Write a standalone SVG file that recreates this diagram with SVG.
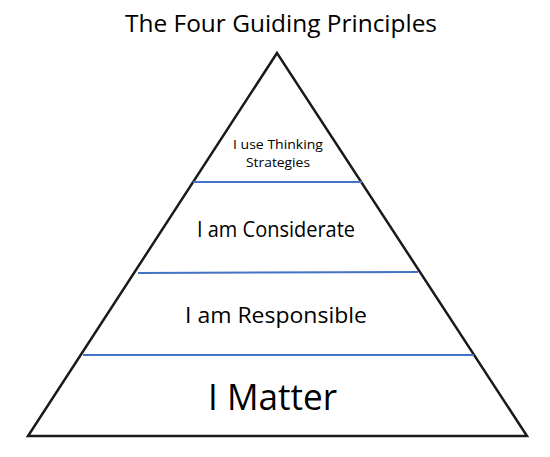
<svg xmlns="http://www.w3.org/2000/svg" width="550" height="457" viewBox="0 0 550 457">
<style>
text{font-family:"Open Sans","Liberation Sans",sans-serif;fill:#000;text-anchor:middle}
.tri{fill:#fff;stroke:#1a1a1a;stroke-width:2.5;stroke-linejoin:miter}
.div{stroke:#4472c4;stroke-width:2;fill:none}
</style>
<rect width="550" height="457" fill="#fff"/>
<text x="281" y="32" font-size="23" textLength="312" lengthAdjust="spacingAndGlyphs">The Four Guiding Principles</text>
<g id="pyramid">
<polygon class="tri" points="277,53 28,436 527,436"/>
</g>
<g id="connectors">
<line class="div" x1="193" y1="182" x2="362" y2="182"/>
<line class="div" x1="138" y1="273" x2="418" y2="272"/>
<line class="div" x1="83" y1="355" x2="474" y2="355"/>
</g>
<g id="level4">
<text x="278" y="149" font-size="13" textLength="90" lengthAdjust="spacingAndGlyphs">I use Thinking</text>
<text x="278" y="167" font-size="13" textLength="64" lengthAdjust="spacingAndGlyphs">Strategies</text>
</g>
<g id="level3">
<text x="276" y="237" font-size="21" textLength="158" lengthAdjust="spacingAndGlyphs">I am Considerate</text>
</g>
<g id="level2">
<text x="276" y="323" font-size="22" textLength="182" lengthAdjust="spacingAndGlyphs">I am Responsible</text>
</g>
<g id="level1">
<text x="272.5" y="410" font-size="36" textLength="129" lengthAdjust="spacingAndGlyphs">I Matter</text>
</g>
</svg>
